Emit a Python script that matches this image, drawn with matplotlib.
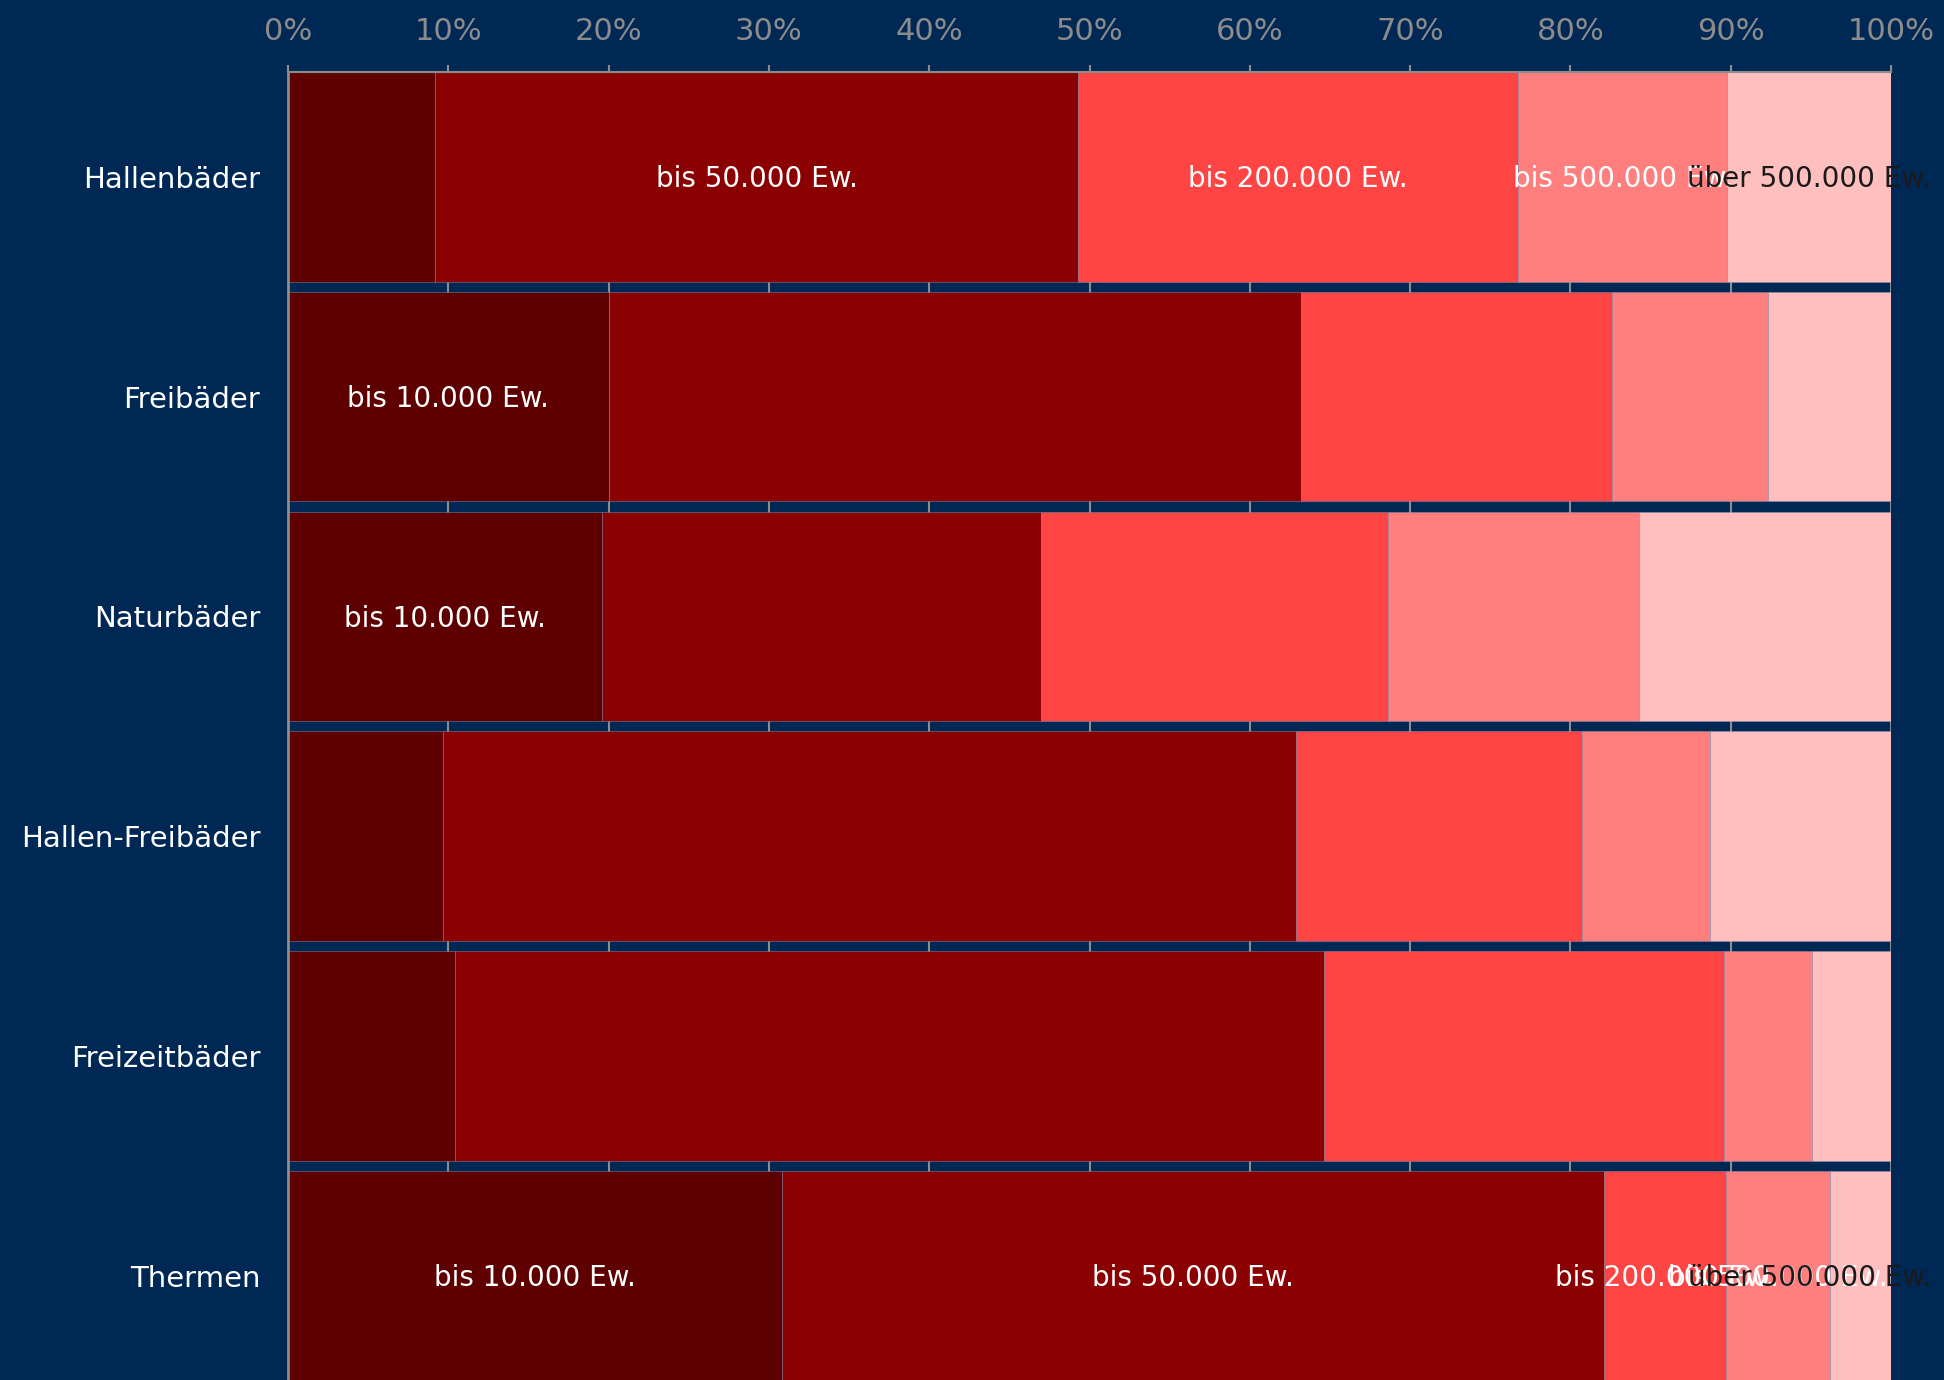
import matplotlib
matplotlib.use("Agg")
import matplotlib.pyplot as plt
import numpy as np

categories = ["Hallenbäder", "Freibäder", "Naturbäder", "Hallen-Freibäder", "Freizeitbäder", "Thermen"]
series = ["bis 10.000 Ew.", "bis 50.000 Ew.", "bis 200.000 Ew.", "bis 500.000 Ew.", "über 500.000 Ew."]
values = {
    "bis 10.000 Ew.":   [9.2, 20.0, 19.6, 9.7, 10.4, 30.8],
    "bis 50.000 Ew.":   [40.1, 43.2, 27.4, 53.2, 54.2, 51.3],
    "bis 200.000 Ew.":  [27.4, 19.4, 21.6, 17.8, 25.0, 7.6],
    "bis 500.000 Ew.":  [13.1, 9.7, 15.7, 8.0, 5.5, 6.5],
    "über 500.000 Ew.": [10.2, 7.7, 15.7, 11.3, 4.9, 3.8],
}
# which segments carry a text label (category index per series)
labeled = {
    "bis 10.000 Ew.":   [1, 2, 5],
    "bis 50.000 Ew.":   [0, 5],
    "bis 200.000 Ew.":  [0, 5],
    "bis 500.000 Ew.":  [0, 5],
    "über 500.000 Ew.": [0, 5],
}
xticks = [0, 10, 20, 30, 40, 50, 60, 70, 80, 90, 100]
xticklabels = [f"{t}%" for t in xticks]

colors = ["#5e0000", "#8b0000", "#ff4444", "#ff7f7f", "#ffbfbf"]
text_colors = ["white", "white", "white", "white", "#1a1a1a"]
bg = "#002855"
grey = "#8c8c8c"

W, H = 1944, 1380
fig = plt.figure(figsize=(W / 100, H / 100), dpi=100, facecolor=bg)
ax = fig.add_axes([288 / W, 0, (1891 - 288) / W, (1380 - 72) / H])
ax.set_facecolor(bg)

h = 0.954
y = np.arange(len(categories))
left = np.zeros(len(categories))
texts = []
for si, s in enumerate(series):
    vals = np.array(values[s], dtype=float)
    ax.barh(y, vals, left=left, height=h, color=colors[si], edgecolor=(0.6, 0.6, 0.7, 0.5),
            linewidth=0.6, zorder=2)
    for ci in labeled[s]:
        t = ax.text(left[ci] + vals[ci] / 2, y[ci] + 0.01, s, ha="center", va="center",
                    color=text_colors[si], fontsize=20, zorder=5 + si, family="DejaVu Sans")
        texts.append(t)
    left += vals

ax.set_xlim(0, 100)
ax.set_ylim(5.475, -h / 2)
ax.xaxis.tick_top()
ax.set_xticks(xticks)
ax.set_xticklabels(xticklabels, fontsize=22, color=grey,
                   family=["DejaVu Sans Condensed", "Liberation Sans Narrow", "DejaVu Sans"])
ax.tick_params(axis="x", which="both", length=5, width=1.5, color=grey, pad=14, top=True, bottom=False)
ax.set_yticks(y)
ax.set_yticklabels(categories, fontsize=21, color="white", family="DejaVu Sans")
ax.tick_params(axis="y", length=0, pad=20)
ax.grid(axis="x", color=grey, linewidth=1.5, zorder=0)
ax.set_axisbelow(True)
for sp in ["right", "bottom"]:
    ax.spines[sp].set_visible(False)
ax.spines["left"].set_color(grey)
ax.spines["left"].set_linewidth(2)
ax.spines["top"].set_color(grey)
ax.spines["top"].set_linewidth(1.5)

# keep segment labels inside the figure (shift left if they overflow the right edge)
fig.canvas.draw()
renderer = fig.canvas.get_renderer()
limit = W - 12
for t in texts:
    bb = t.get_window_extent(renderer)
    if bb.x1 > limit:
        dx_pix = bb.x1 - limit
        x_disp, y_disp = ax.transData.transform(t.get_position())
        new = ax.transData.inverted().transform((x_disp - dx_pix, y_disp))
        t.set_position((new[0], t.get_position()[1]))

fig.savefig("out.png", dpi=100, facecolor=bg)
